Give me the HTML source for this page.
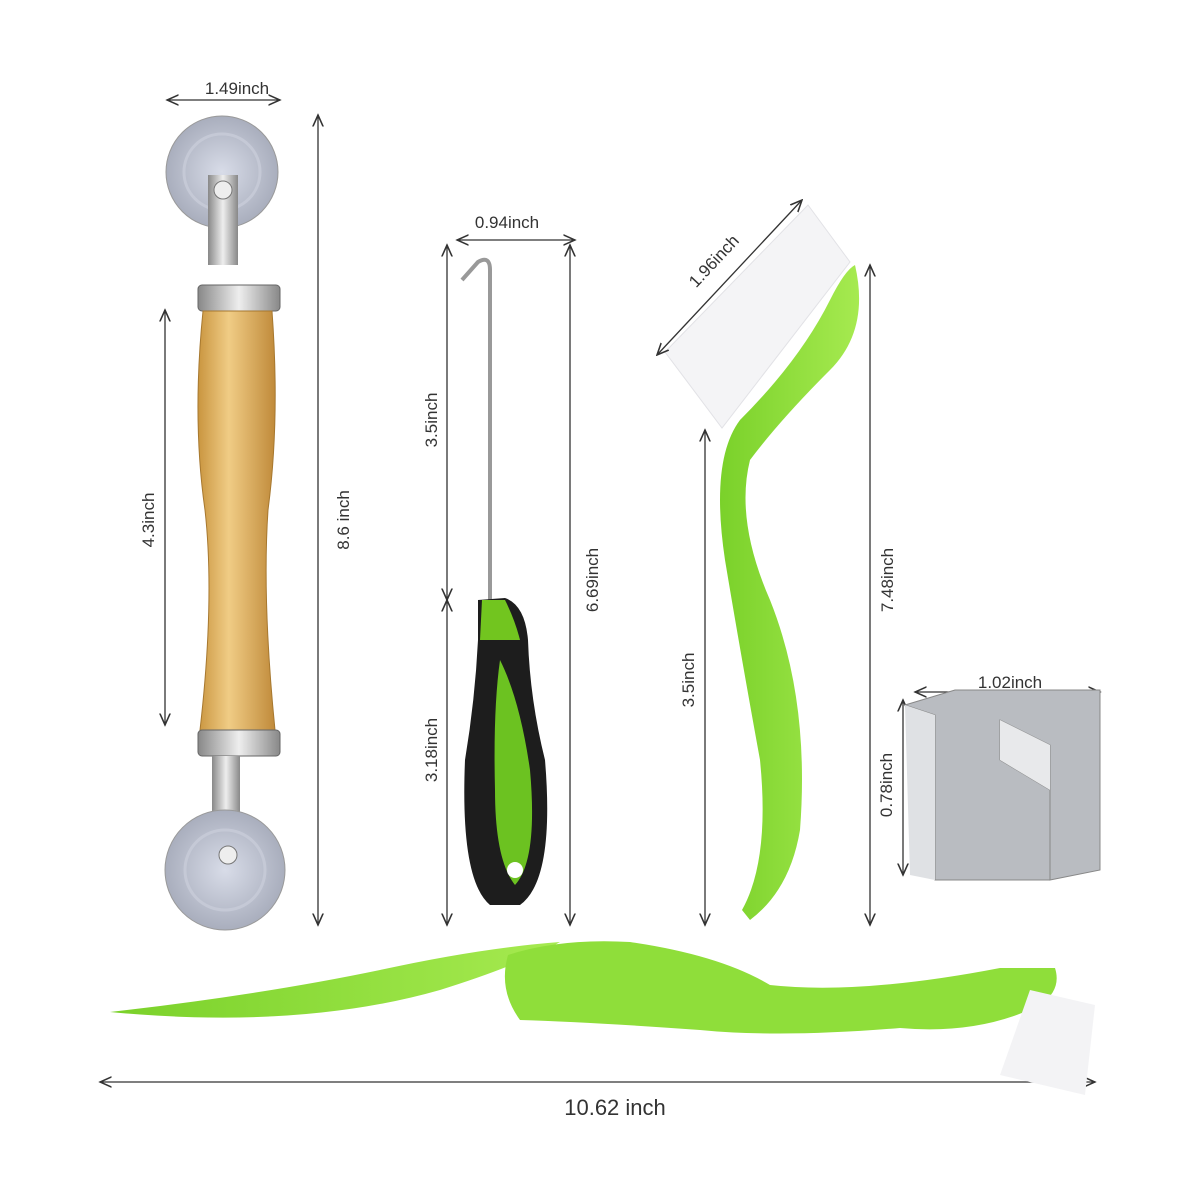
<!DOCTYPE html>
<html><head><meta charset="utf-8"><style>
html,body{margin:0;padding:0;background:#fff;width:1200px;height:1200px;overflow:hidden}
text{font-family:"Liberation Sans",sans-serif;fill:#333}
</style></head><body>
<svg width="1200" height="1200" viewBox="0 0 1200 1200" xmlns="http://www.w3.org/2000/svg">
<defs>
<marker id="a" markerWidth="10" markerHeight="10" refX="9" refY="5" orient="auto-start-reverse"><path d="M0,1 L9,5 L0,9" fill="none" stroke="#333" stroke-width="1.2"/></marker>
<linearGradient id="wood" x1="0" x2="1"><stop offset="0" stop-color="#c9953f"/><stop offset="0.4" stop-color="#f0cc85"/><stop offset="1" stop-color="#c08a3a"/></linearGradient>
<linearGradient id="met" x1="0" x2="1"><stop offset="0" stop-color="#888"/><stop offset="0.5" stop-color="#eee"/><stop offset="1" stop-color="#888"/></linearGradient>
<radialGradient id="wh"><stop offset="0" stop-color="#d8dce8"/><stop offset="1" stop-color="#a9aebd"/></radialGradient>
<linearGradient id="grn" x1="0" x2="1"><stop offset="0" stop-color="#7ad12a"/><stop offset="1" stop-color="#a6ea50"/></linearGradient>
</defs>
<path d="M665,352 L808,205 L850,262 L722,428 Z" fill="#f4f4f6" stroke="#e2e2e6"/>
<g stroke="#333" stroke-width="1.3" fill="none">
<line x1="167" y1="100" x2="280" y2="100" marker-start="url(#a)" marker-end="url(#a)"/>
<line x1="318" y1="115" x2="318" y2="925" marker-start="url(#a)" marker-end="url(#a)"/>
<line x1="165" y1="310" x2="165" y2="725" marker-start="url(#a)" marker-end="url(#a)"/>
<line x1="457" y1="240" x2="575" y2="240" marker-start="url(#a)" marker-end="url(#a)"/>
<line x1="447" y1="245" x2="447" y2="600" marker-start="url(#a)" marker-end="url(#a)"/>
<line x1="447" y1="600" x2="447" y2="925" marker-start="url(#a)" marker-end="url(#a)"/>
<line x1="570" y1="245" x2="570" y2="925" marker-start="url(#a)" marker-end="url(#a)"/>
<line x1="657" y1="355" x2="802" y2="200" marker-start="url(#a)" marker-end="url(#a)"/>
<line x1="705" y1="430" x2="705" y2="925" marker-start="url(#a)" marker-end="url(#a)"/>
<line x1="870" y1="265" x2="870" y2="925" marker-start="url(#a)" marker-end="url(#a)"/>
<line x1="903" y1="700" x2="903" y2="875" marker-start="url(#a)" marker-end="url(#a)"/>
<line x1="915" y1="692" x2="1100" y2="692" marker-start="url(#a)" marker-end="url(#a)"/>
<line x1="100" y1="1082" x2="1095" y2="1082" marker-start="url(#a)" marker-end="url(#a)"/>
</g>
<circle cx="222" cy="172" r="56" fill="url(#wh)" stroke="#999"/>
<circle cx="222" cy="172" r="38" fill="none" stroke="#c5c9d6" stroke-width="3"/>
<path d="M208,175 L208,265 L238,265 L238,175 Z" fill="url(#met)"/>
<circle cx="223" cy="190" r="9" fill="#eee" stroke="#777"/>
<rect x="198" y="285" width="82" height="26" rx="4" fill="url(#met)" stroke="#666"/>
<path d="M203,311 Q192,420 205,510 Q215,600 200,730 L275,730 Q262,600 268,510 Q280,420 272,311 Z" fill="url(#wood)" stroke="#a7782f"/>
<rect x="198" y="730" width="82" height="26" rx="4" fill="url(#met)" stroke="#666"/>
<path d="M212,756 L212,830 L240,830 L240,756 Z" fill="url(#met)"/>
<circle cx="225" cy="870" r="60" fill="url(#wh)" stroke="#999"/>
<circle cx="225" cy="870" r="40" fill="none" stroke="#c5c9d6" stroke-width="3"/>
<circle cx="228" cy="855" r="9" fill="#eee" stroke="#777"/>
<path d="M490,600 L490,270 Q490,255 478,262 L462,280" fill="none" stroke="#999" stroke-width="4"/>
<path d="M478,600 L505,598 Q525,605 528,640 Q530,700 545,760 Q555,880 520,905 L490,905 Q460,880 465,760 Q475,700 478,640 Z" fill="#1d1d1d"/>
<path d="M482,600 L505,600 Q515,620 520,640 L480,640 Z" fill="#72c51f"/>
<path d="M500,660 Q520,700 530,770 Q538,860 515,885 Q495,860 495,790 Q493,710 500,660 Z" fill="#6cc221"/>
<circle cx="515" cy="870" r="8" fill="#fff"/>
<path d="M855,265 Q870,330 830,370 Q780,420 750,460 Q735,520 770,600 Q810,700 800,830 Q790,890 750,920 L742,910 Q770,860 760,760 Q740,650 725,560 Q710,460 740,420 Q800,360 830,300 Q845,270 855,265 Z" fill="url(#grn)"/>
<path d="M905,705 L955,690 L1100,690 L1100,870 L1050,880 L1050,745 L1000,720 L1000,760 L1050,790 L1050,880 L935,880 L935,715 Z" fill="#b9bcc1" stroke="#888"/>
<path d="M905,705 L935,715 L935,880 L910,875 Z" fill="#dfe1e4"/>
<path d="M1000,720 L1050,745 L1050,790 L1000,760 Z" fill="#e8e9eb"/>
<path d="M110,1012 Q260,995 380,970 Q480,948 560,942 Q520,965 440,990 Q300,1030 110,1012 Z" fill="url(#grn)"/>
<path d="M508,955 Q560,938 630,942 Q720,955 770,985 Q860,995 1000,968 L1055,968 Q1062,990 1040,1005 Q980,1035 900,1028 Q780,1038 700,1030 Q590,1022 520,1020 Q498,990 508,955 Z" fill="#8fde3a"/>
<path d="M1030,990 L1095,1005 L1085,1095 L1000,1075 Z" fill="#f3f3f5"/>
<g font-size="17">
<text x="237" y="94" text-anchor="middle">1.49inch</text>
<text x="507" y="228" text-anchor="middle">0.94inch</text>
<text x="1010" y="688" text-anchor="middle">1.02inch</text>
<text x="615" y="1115" text-anchor="middle" font-size="22">10.62 inch</text>
<text transform="translate(349,520) rotate(-90)" text-anchor="middle">8.6 inch</text>
<text transform="translate(154,520) rotate(-90)" text-anchor="middle">4.3inch</text>
<text transform="translate(437,420) rotate(-90)" text-anchor="middle">3.5inch</text>
<text transform="translate(437,750) rotate(-90)" text-anchor="middle">3.18inch</text>
<text transform="translate(598,580) rotate(-90)" text-anchor="middle">6.69inch</text>
<text transform="translate(694,680) rotate(-90)" text-anchor="middle">3.5inch</text>
<text transform="translate(893,580) rotate(-90)" text-anchor="middle">7.48inch</text>
<text transform="translate(892,785) rotate(-90)" text-anchor="middle">0.78inch</text>
<text transform="translate(718,265) rotate(-47)" text-anchor="middle">1.96inch</text>
</g>
</svg>
</body></html>
